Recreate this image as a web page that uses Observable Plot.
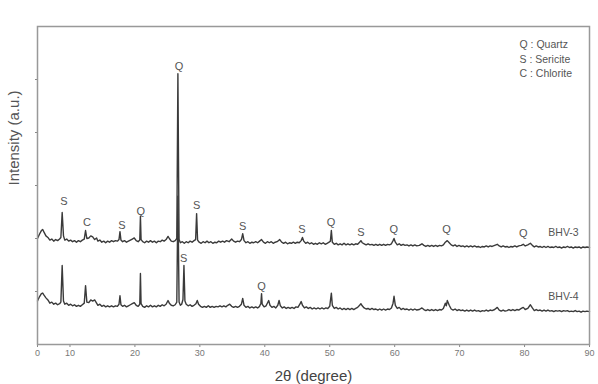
<!DOCTYPE html>
<html>
<head>
<meta charset="utf-8">
<script src="https://cdn.jsdelivr.net/npm/d3@7"></script>
<script src="https://cdn.jsdelivr.net/npm/@observablehq/plot@0.6"></script>
<style>
  html, body { margin: 0; padding: 0; background: #fff; }
  #chart svg { display: block; -webkit-font-smoothing: antialiased; }
</style>
</head>
<body>
<div id="chart"></div>
<script>
// 2θ (degree), intensity (a.u.) for sample BHV-3
const bhv3 = [
[5.0,2.00],[5.3,2.08],[5.6,2.15],[5.8,2.17],[6.0,2.12],[6.3,2.05],[6.6,2.02],[6.9,1.97],[7.2,1.99],[7.5,1.95],[7.8,1.98],[8.1,1.96],[8.4,1.99],[8.6,2.02],[8.8,2.49],[9.0,2.05],[9.2,1.97],[9.5,1.99],[9.8,1.95],[10.1,1.97],[10.4,1.94],[10.7,1.96],[11.0,1.93],[11.3,1.96],[11.6,1.94],[11.9,1.97],[12.2,1.99],[12.4,2.15],[12.6,2.00],[12.9,2.01],[13.2,2.05],[13.5,2.03],[13.8,1.98],[14.1,2.01],[14.3,1.95],[14.6,1.97],[14.9,1.93],[15.2,1.95],[15.5,1.92],[15.8,1.95],[16.1,1.93],[16.4,1.96],[16.7,1.94],[17.0,1.96],[17.3,1.95],[17.55,1.98],[17.7,2.13],[17.85,1.97],[18.1,1.94],[18.4,1.96],[18.7,1.93],[19.0,1.95],[19.3,1.97],[19.6,1.99],[19.9,2.01],[20.2,1.96],[20.5,1.94],[20.75,1.97],[20.85,2.42],[20.95,1.98],[21.2,1.94],[21.5,1.92],[21.8,1.95],[22.1,1.93],[22.4,1.96],[22.7,1.93],[23.0,1.95],[23.3,1.92],[23.6,1.95],[23.9,1.94],[24.2,1.97],[24.5,1.95],[24.8,1.98],[25.1,2.04],[25.3,2.00],[25.6,1.95],[25.9,1.94],[26.2,1.96],[26.45,2.00],[26.62,5.11],[26.8,1.98],[27.0,1.92],[27.3,1.94],[27.6,1.91],[27.9,1.94],[28.2,1.92],[28.5,1.95],[28.8,1.93],[29.1,1.96],[29.35,1.98],[29.5,2.47],[29.65,1.97],[29.9,1.93],[30.2,1.91],[30.5,1.94],[30.8,1.92],[31.1,1.95],[31.4,1.92],[31.7,1.94],[32.0,1.91],[32.3,1.93],[32.6,1.92],[32.9,1.95],[33.2,1.93],[33.5,1.95],[33.8,1.93],[34.1,1.96],[34.5,1.94],[34.9,1.99],[35.2,1.95],[35.5,1.93],[35.8,1.95],[36.1,1.94],[36.4,1.98],[36.6,2.09],[36.8,1.96],[37.1,1.92],[37.4,1.94],[37.7,1.91],[38.0,1.93],[38.3,1.92],[38.6,1.94],[38.9,1.92],[39.2,1.95],[39.5,1.98],[39.8,1.93],[40.1,1.91],[40.4,1.94],[40.7,1.92],[41.0,1.94],[41.3,1.91],[41.6,1.93],[41.9,1.94],[42.3,1.98],[42.6,1.93],[42.9,1.91],[43.2,1.93],[43.5,1.90],[43.8,1.92],[44.1,1.91],[44.4,1.93],[44.7,1.91],[45.0,1.93],[45.3,1.92],[45.6,1.96],[45.8,2.02],[46.0,1.95],[46.3,1.91],[46.6,1.93],[46.9,1.90],[47.2,1.92],[47.5,1.89],[47.8,1.91],[48.1,1.89],[48.4,1.92],[48.7,1.90],[49.0,1.92],[49.3,1.89],[49.6,1.91],[49.9,1.93],[50.1,1.95],[50.25,2.15],[50.4,1.93],[50.7,1.89],[51.0,1.91],[51.3,1.88],[51.6,1.90],[51.9,1.88],[52.2,1.91],[52.5,1.88],[52.8,1.90],[53.1,1.88],[53.4,1.90],[53.7,1.88],[54.0,1.90],[54.3,1.89],[54.6,1.93],[54.8,1.96],[55.0,1.92],[55.3,1.90],[55.6,1.88],[55.9,1.90],[56.2,1.88],[56.5,1.89],[56.8,1.87],[57.1,1.89],[57.4,1.87],[57.7,1.89],[58.0,1.87],[58.3,1.89],[58.6,1.87],[58.9,1.89],[59.2,1.88],[59.5,1.90],[59.75,1.96],[59.9,2.00],[60.1,1.93],[60.4,1.88],[60.7,1.90],[61.0,1.87],[61.3,1.89],[61.6,1.87],[61.9,1.88],[62.2,1.86],[62.5,1.88],[62.8,1.86],[63.1,1.88],[63.4,1.86],[63.8,1.87],[64.2,1.90],[64.5,1.87],[64.8,1.85],[65.1,1.87],[65.4,1.85],[65.7,1.87],[66.0,1.85],[66.3,1.87],[66.6,1.85],[66.9,1.87],[67.2,1.86],[67.5,1.88],[67.8,1.93],[68.1,1.96],[68.4,1.92],[68.7,1.88],[69.0,1.86],[69.3,1.88],[69.6,1.85],[69.9,1.87],[70.2,1.85],[70.5,1.86],[70.8,1.84],[71.1,1.86],[71.4,1.84],[71.7,1.86],[72.0,1.84],[72.3,1.86],[72.6,1.84],[72.9,1.85],[73.2,1.83],[73.5,1.85],[73.8,1.84],[74.1,1.86],[74.4,1.84],[74.7,1.86],[75.0,1.85],[75.4,1.87],[75.8,1.89],[76.1,1.86],[76.4,1.84],[76.7,1.86],[77.0,1.84],[77.3,1.85],[77.6,1.83],[77.9,1.85],[78.2,1.84],[78.5,1.86],[78.8,1.84],[79.1,1.86],[79.5,1.87],[79.8,1.89],[80.1,1.86],[80.5,1.88],[80.9,1.91],[81.2,1.87],[81.5,1.84],[81.8,1.86],[82.1,1.84],[82.4,1.85],[82.7,1.83],[83.0,1.85],[83.3,1.83],[83.6,1.85],[83.9,1.83],[84.2,1.84],[84.5,1.83],[84.8,1.85],[85.1,1.83],[85.4,1.84],[85.7,1.82],[86.0,1.84],[86.3,1.83],[86.6,1.85],[86.9,1.83],[87.2,1.84],[87.5,1.82],[87.8,1.84],[88.1,1.83],[88.4,1.84],[88.7,1.82],[89.0,1.84],[89.3,1.83],[89.6,1.84],[90.0,1.83]
];

// 2θ (degree), intensity (a.u.) for sample BHV-4
const bhv4 = [
[5.0,0.82],[5.3,0.90],[5.6,0.96],[5.8,0.97],[6.0,0.93],[6.3,0.88],[6.6,0.84],[6.9,0.78],[7.2,0.80],[7.5,0.76],[7.8,0.78],[8.1,0.75],[8.4,0.77],[8.6,0.80],[8.8,1.49],[9.0,0.82],[9.2,0.76],[9.5,0.78],[9.8,0.74],[10.1,0.76],[10.4,0.73],[10.7,0.75],[11.0,0.72],[11.3,0.74],[11.6,0.72],[11.9,0.75],[12.2,0.78],[12.4,1.11],[12.6,0.80],[12.9,0.79],[13.2,0.84],[13.5,0.82],[13.8,0.84],[14.1,0.78],[14.3,0.74],[14.6,0.76],[14.9,0.72],[15.2,0.74],[15.5,0.71],[15.8,0.73],[16.1,0.71],[16.4,0.73],[16.7,0.71],[17.0,0.73],[17.3,0.72],[17.55,0.76],[17.7,0.92],[17.85,0.75],[18.1,0.72],[18.4,0.74],[18.7,0.71],[19.0,0.73],[19.3,0.75],[19.6,0.77],[19.9,0.79],[20.2,0.74],[20.5,0.72],[20.75,0.76],[20.85,1.34],[20.95,0.77],[21.2,0.72],[21.5,0.70],[21.8,0.73],[22.1,0.71],[22.4,0.74],[22.7,0.71],[23.0,0.73],[23.3,0.71],[23.6,0.74],[23.9,0.72],[24.2,0.75],[24.5,0.73],[24.8,0.76],[25.1,0.83],[25.3,0.78],[25.6,0.74],[25.9,0.73],[26.2,0.75],[26.45,0.80],[26.62,2.80],[26.8,0.80],[27.0,0.74],[27.2,0.76],[27.4,0.85],[27.55,1.49],[27.7,0.82],[27.9,0.76],[28.2,0.73],[28.5,0.75],[28.8,0.72],[29.1,0.74],[29.4,0.77],[29.6,0.83],[29.8,0.76],[30.1,0.72],[30.4,0.70],[30.7,0.72],[31.0,0.70],[31.3,0.73],[31.6,0.70],[31.9,0.72],[32.2,0.70],[32.5,0.72],[32.8,0.71],[33.1,0.73],[33.4,0.71],[33.7,0.73],[34.0,0.71],[34.3,0.74],[34.6,0.76],[34.9,0.72],[35.2,0.70],[35.5,0.72],[35.8,0.70],[36.1,0.72],[36.4,0.76],[36.6,0.87],[36.8,0.74],[37.1,0.70],[37.4,0.72],[37.7,0.69],[38.0,0.71],[38.3,0.69],[38.6,0.71],[38.9,0.69],[39.2,0.72],[39.4,0.78],[39.5,0.96],[39.6,0.76],[39.9,0.71],[40.2,0.73],[40.6,0.83],[40.8,0.74],[41.1,0.70],[41.4,0.72],[41.7,0.69],[42.0,0.74],[42.2,0.83],[42.4,0.73],[42.7,0.69],[43.0,0.71],[43.3,0.68],[43.6,0.70],[43.9,0.68],[44.2,0.70],[44.5,0.68],[44.8,0.71],[45.1,0.70],[45.4,0.76],[45.6,0.81],[45.8,0.74],[46.1,0.69],[46.4,0.71],[46.7,0.68],[47.0,0.70],[47.3,0.67],[47.6,0.69],[47.9,0.67],[48.2,0.69],[48.5,0.67],[48.8,0.69],[49.1,0.67],[49.4,0.69],[49.7,0.68],[50.0,0.72],[50.25,0.97],[50.4,0.74],[50.7,0.68],[51.0,0.70],[51.3,0.67],[51.6,0.69],[51.9,0.66],[52.2,0.68],[52.5,0.66],[52.8,0.68],[53.1,0.66],[53.4,0.68],[53.7,0.66],[54.0,0.68],[54.3,0.70],[54.6,0.74],[54.8,0.77],[55.0,0.73],[55.3,0.69],[55.6,0.67],[55.9,0.68],[56.2,0.66],[56.5,0.68],[56.8,0.66],[57.1,0.67],[57.4,0.65],[57.7,0.67],[58.0,0.65],[58.3,0.67],[58.6,0.65],[58.9,0.67],[59.2,0.66],[59.5,0.69],[59.75,0.78],[59.9,0.91],[60.1,0.74],[60.4,0.68],[60.7,0.70],[61.0,0.66],[61.3,0.68],[61.6,0.66],[61.9,0.67],[62.2,0.65],[62.5,0.67],[62.8,0.65],[63.1,0.67],[63.4,0.65],[63.8,0.66],[64.2,0.69],[64.5,0.66],[64.8,0.64],[65.1,0.66],[65.4,0.64],[65.7,0.66],[66.0,0.64],[66.3,0.66],[66.6,0.64],[66.9,0.66],[67.2,0.65],[67.5,0.68],[67.8,0.78],[67.95,0.73],[68.1,0.83],[68.4,0.74],[68.7,0.67],[69.0,0.65],[69.3,0.67],[69.6,0.64],[69.9,0.66],[70.2,0.64],[70.5,0.65],[70.8,0.63],[71.1,0.65],[71.4,0.63],[71.7,0.65],[72.0,0.63],[72.3,0.65],[72.6,0.63],[72.9,0.64],[73.2,0.62],[73.5,0.64],[73.8,0.63],[74.1,0.65],[74.4,0.63],[74.7,0.65],[75.0,0.64],[75.4,0.66],[75.8,0.70],[76.1,0.65],[76.4,0.63],[76.7,0.65],[77.0,0.63],[77.3,0.64],[77.6,0.66],[77.9,0.64],[78.2,0.66],[78.5,0.64],[78.8,0.66],[79.1,0.65],[79.5,0.68],[79.8,0.70],[80.1,0.66],[80.5,0.68],[80.9,0.75],[81.2,0.69],[81.5,0.64],[81.8,0.66],[82.1,0.64],[82.4,0.65],[82.7,0.63],[83.0,0.65],[83.3,0.63],[83.6,0.65],[83.9,0.63],[84.2,0.64],[84.5,0.62],[84.8,0.64],[85.1,0.63],[85.4,0.64],[85.7,0.62],[86.0,0.64],[86.3,0.63],[86.6,0.64],[86.9,0.62],[87.2,0.63],[87.5,0.62],[87.8,0.64],[88.1,0.62],[88.4,0.63],[88.7,0.61],[89.0,0.63],[89.3,0.62],[89.6,0.63],[90.0,0.62]
];

// Phase labels: [letter, 2θ, intensity]
const peakLabels = [
["S",9.08,2.70],["C",12.6,2.30],["S",18.0,2.25],["Q",20.9,2.51],["Q",26.8,5.25],
["S",29.5,2.62],["S",36.6,2.23],["S",45.7,2.17],["Q",50.2,2.30],["S",54.8,2.11],
["Q",59.85,2.17],["Q",68.0,2.17],["Q",79.8,2.09],
["S",27.5,1.62],["Q",39.5,1.09]
];

// Sample names: [name, 2θ, intensity]
const sampleLabels = [["BHV-3",86.0,2.11],["BHV-4",86.0,0.91]];

const legendLines = ["Q : Quartz","S : Sericite","C : Chlorite"];

const xTicks = [5,10,20,30,40,50,60,70,80,90];
const xTickLabels = ["0","10","20","30","40","50","60","70","80","90"];
const yTicks = [1,2,3,4,5];

const series = [
  ...bhv3.map(([x,y]) => ({sample:"BHV-3", x, y})),
  ...bhv4.map(([x,y]) => ({sample:"BHV-4", x, y}))
];
const peaks = peakLabels.map(([t,x,y]) => ({t,x,y}));
const samples = sampleLabels.map(([t,x,y]) => ({t,x,y}));

const chart = Plot.plot({
  width: 598,
  height: 384,
  marginLeft: 37,
  marginRight: 9,
  marginTop: 26,
  marginBottom: 40,
  style: {fontFamily: "'Liberation Sans', Arial, sans-serif", color: "#777", background: "#fff"},
  x: {domain: [5, 90]},
  y: {domain: [0, 6]},
  marks: [
    Plot.axisX({ticks: xTicks, tickFormat: d => xTickLabels[xTicks.indexOf(d)], tickSize: 3, tickPadding: 2, fontSize: 9, label: null, stroke: "#888"}),
    Plot.axisY({ticks: yTicks, tickFormat: () => "", tickSize: 2, label: null, stroke: "#888"}),
    Plot.line(series, {x: "x", y: "y", z: "sample", stroke: "#3a3a3a", strokeWidth: 1.4, strokeLinejoin: "round"}),
    Plot.frame({stroke: "#999", strokeWidth: 1.5}),
    Plot.text(peaks, {x: "x", y: "y", text: "t", fontSize: 11, fill: "#555"}),
    Plot.text(samples, {x: "x", y: "y", text: "t", fontSize: 10.5, fill: "#555"}),
    Plot.text([legendLines.join("\n")], {frameAnchor: "top-right", dx: -70, dy: 11, textAnchor: "start", lineAnchor: "top", lineHeight: 1.4, fontSize: 10.5, fill: "#555"}),
    Plot.text(["2θ (degree)"], {frameAnchor: "bottom", dy: 36, fontSize: 15, fill: "#444"}),
    Plot.text(["Intensity (a.u.)"], {frameAnchor: "left", dx: -23, rotate: -90, fontSize: 15, fill: "#555"})
  ]
});
document.getElementById("chart").append(chart);
</script>
</body>
</html>
